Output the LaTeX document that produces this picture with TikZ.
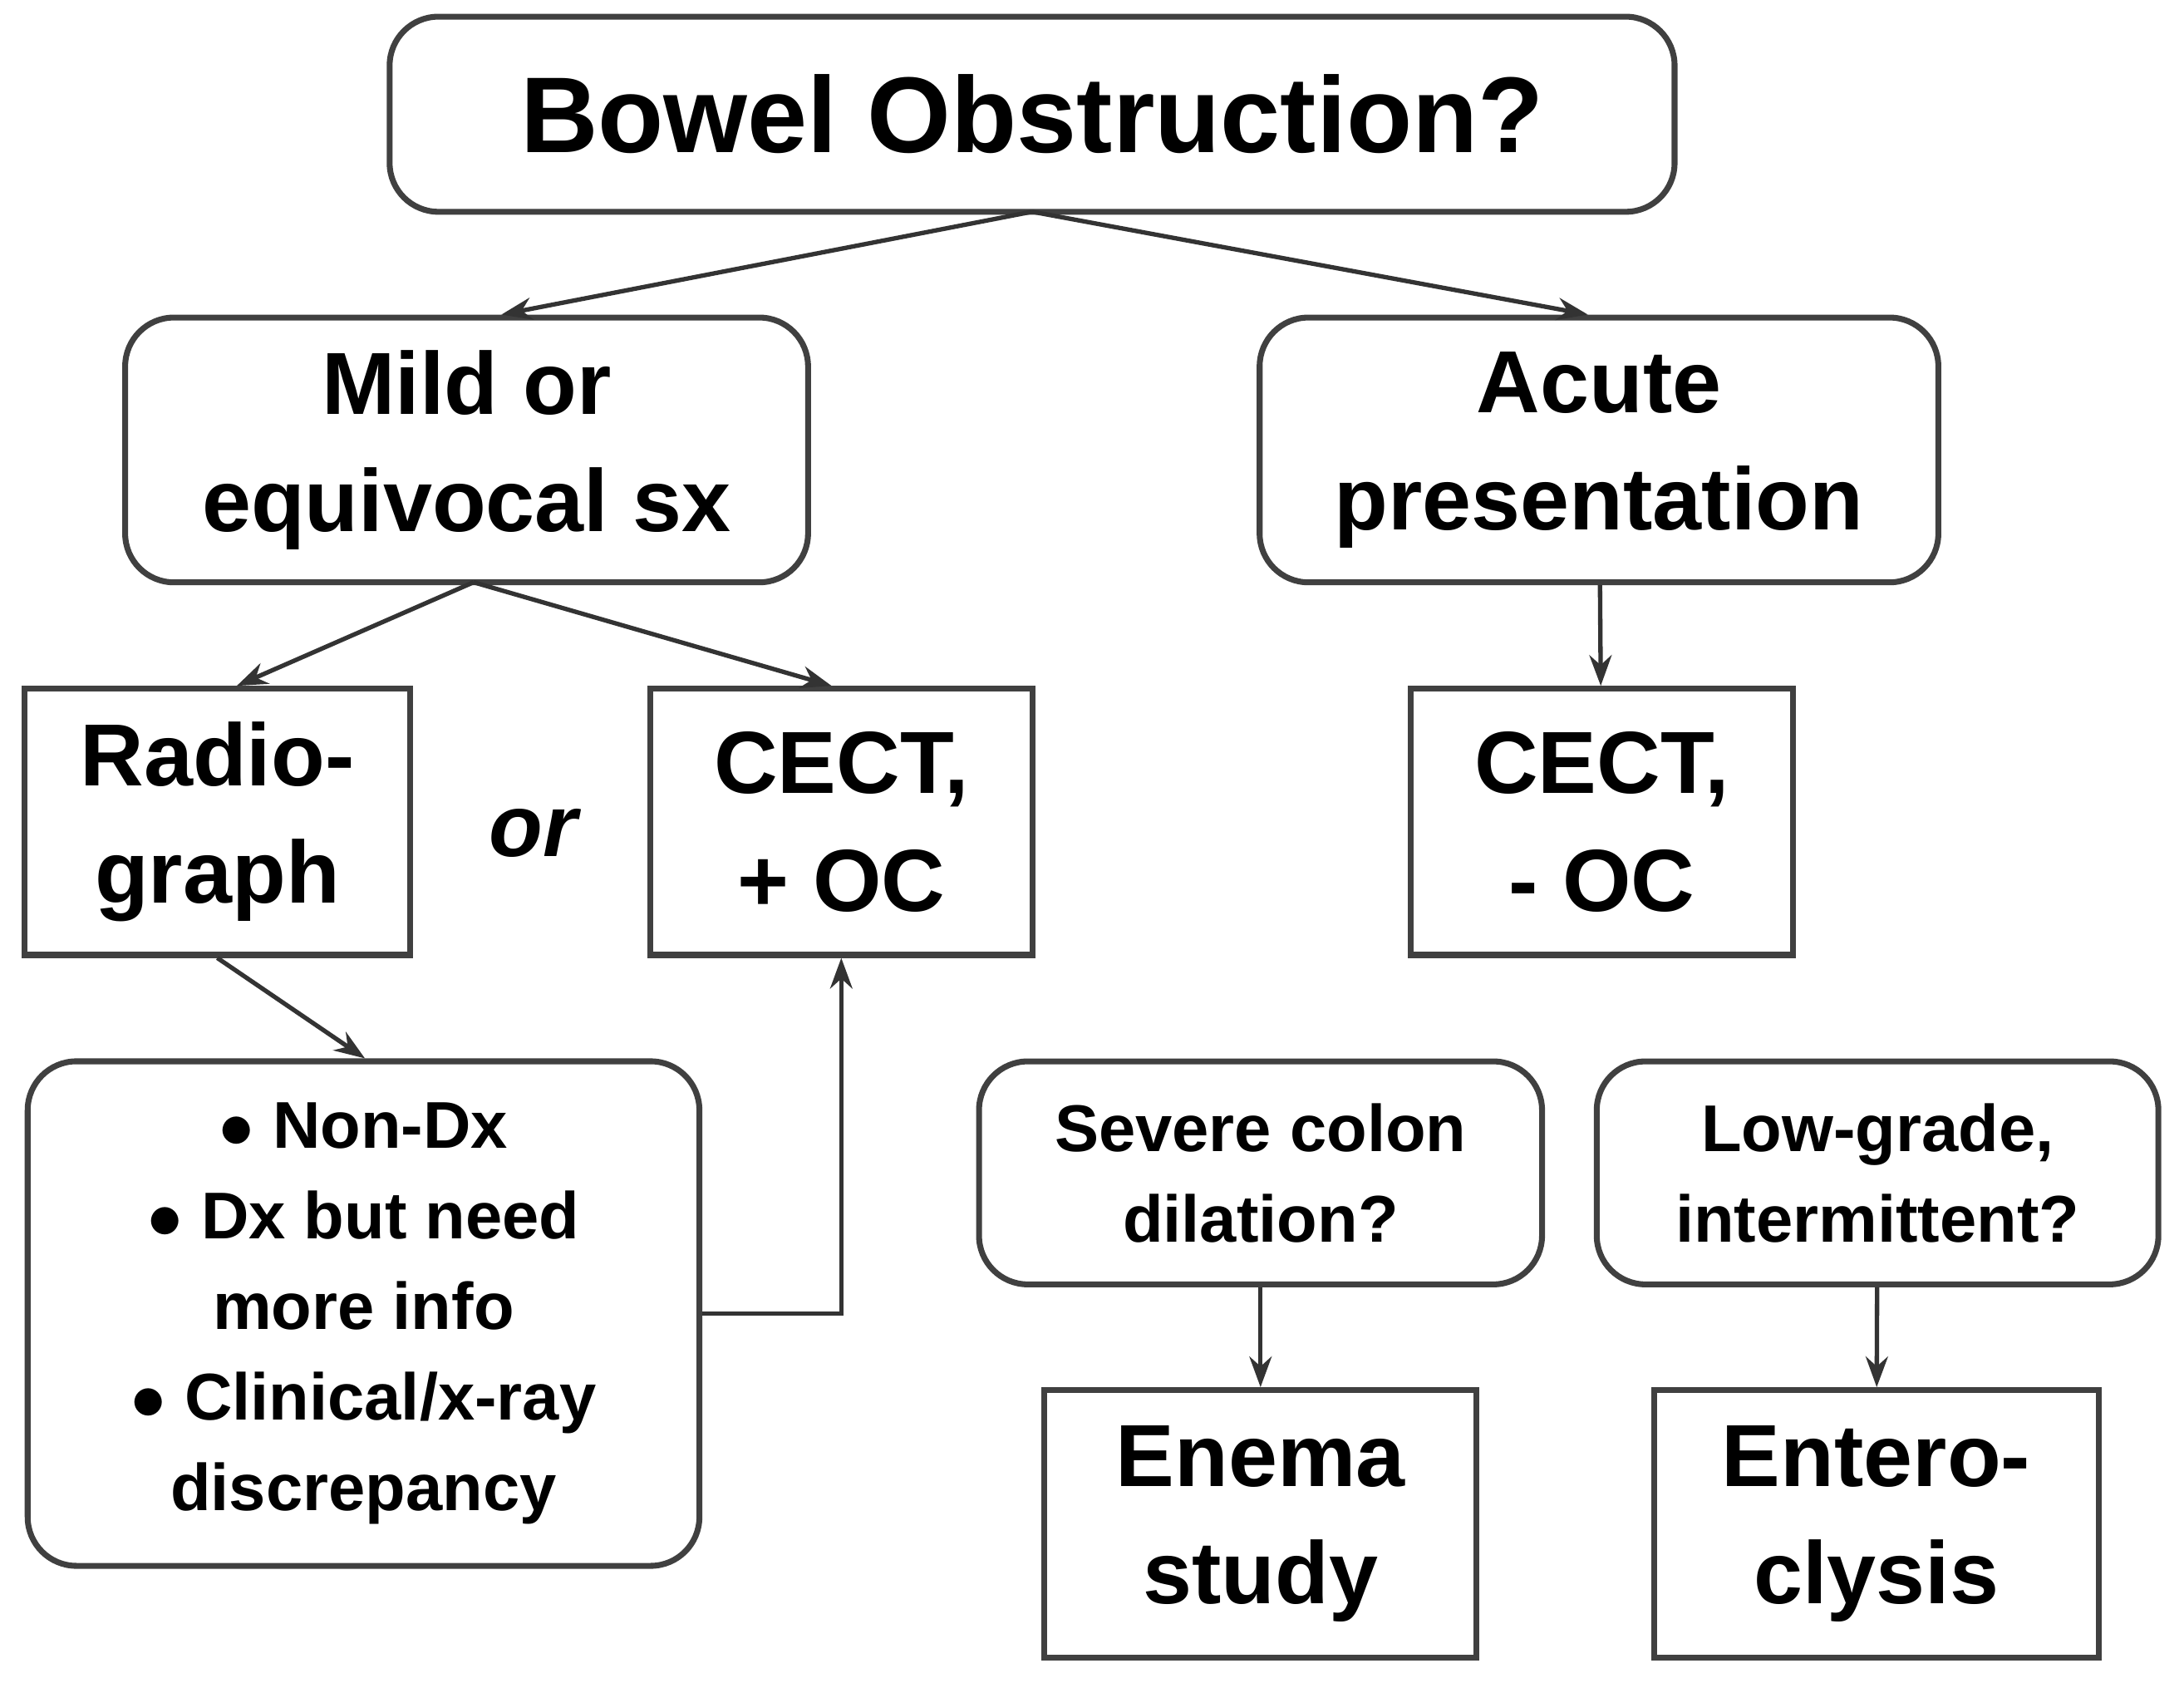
\documentclass[tikz,border=0pt]{standalone}
\usepackage{fontspec}
\setmainfont{Liberation Sans}
\usetikzlibrary{arrows.meta,positioning}
\begin{document}
\begin{tikzpicture}[
    x=0.01cm, y=-0.01cm,
    roundbox/.style={rectangle, draw=black!75, line width=1.2pt, rounded corners=0.35cm, align=center, inner sep=0pt, font=\bfseries},
    sqbox/.style={rectangle, draw=black!75, line width=1.2pt, align=center, inner sep=0pt, font=\bfseries},
    arrow/.style={-{Stealth[length=0.22cm,width=0.16cm]}, line width=0.9pt, color=black!80}
]
    \useasboundingbox (0,0) rectangle (1568,1208);

    % --- Top ---
    \node[roundbox, minimum width=9.22cm, minimum height=1.4cm, font=\fontsize{22}{26}\selectfont\bfseries] (bowel) at (741,82) {Bowel Obstruction?};

    % --- Second row ---
    \node[roundbox, minimum width=4.9cm, minimum height=1.9cm, font=\fontsize{18}{24}\selectfont\bfseries] (mild) at (335,323) {Mild or\\equivocal sx};
    \node[roundbox, minimum width=4.87cm, minimum height=1.9cm, font=\fontsize{18}{24}\selectfont\bfseries] (acute) at (1148,323) {Acute\\presentation};

    % --- Third row ---
    \node[sqbox, minimum width=2.77cm, minimum height=1.91cm, font=\fontsize{18}{24}\selectfont\bfseries] (radio) at (156,590) {Radio-\\graph};
    \node[font=\fontsize{18}{24}\selectfont\bfseries\itshape] (or) at (383,598) {or};
    \node[sqbox, minimum width=2.74cm, minimum height=1.91cm, font=\fontsize{18}{24}\selectfont\bfseries] (cectp) at (604,590) {CECT,\\+ OC};
    \node[sqbox, minimum width=2.74cm, minimum height=1.91cm, font=\fontsize{18}{24}\selectfont\bfseries] (cectm) at (1150,590) {CECT,\\- OC};

    % --- Lower row ---
    \node[roundbox, minimum width=4.82cm, minimum height=3.62cm, font=\fontsize{13.5}{18.5}\selectfont\bfseries] (bullets) at (261,943) {$\bullet$ Non-Dx\\$\bullet$ Dx but need\\more info\\$\bullet$ Clinical/x-ray\\discrepancy};
    \node[roundbox, minimum width=4.04cm, minimum height=1.6cm, font=\fontsize{13.5}{18.5}\selectfont\bfseries] (severe) at (905,842) {Severe colon\\dilation?};
    \node[roundbox, minimum width=4.03cm, minimum height=1.6cm, font=\fontsize{13.5}{18.5}\selectfont\bfseries] (lowgrade) at (1348,842) {Low-grade,\\intermittent?};
    \node[sqbox, minimum width=3.1cm, minimum height=1.92cm, font=\fontsize{18}{24}\selectfont\bfseries] (enema) at (905,1094) {Enema\\study};
    \node[sqbox, minimum width=3.19cm, minimum height=1.92cm, font=\fontsize{18}{24}\selectfont\bfseries] (entero) at (1347,1094) {Entero-\\clysis};

    % --- Connections ---
    \coordinate (bowel-s) at (741,152);
    \draw[arrow] (bowel-s) -- (mild.north -| 360,0);
    \draw[arrow] (bowel-s) -- (acute.north -| 1140,0);
    \coordinate (mild-s) at (340,418);
    \draw[arrow] (mild-s) -- (radio.north -| 170,0);
    \draw[arrow] (mild-s) -- (cectp.north -| 597,0);
    \draw[arrow] (acute) -- (cectm);
    \draw[arrow] (radio.south) -- (bullets.north -| 262,0);
    \draw[arrow] (bullets.east) -| (cectp.south);
    \draw[arrow] (severe) -- (enema);
    \draw[arrow] (lowgrade) -- (entero);
\end{tikzpicture}
\end{document}
